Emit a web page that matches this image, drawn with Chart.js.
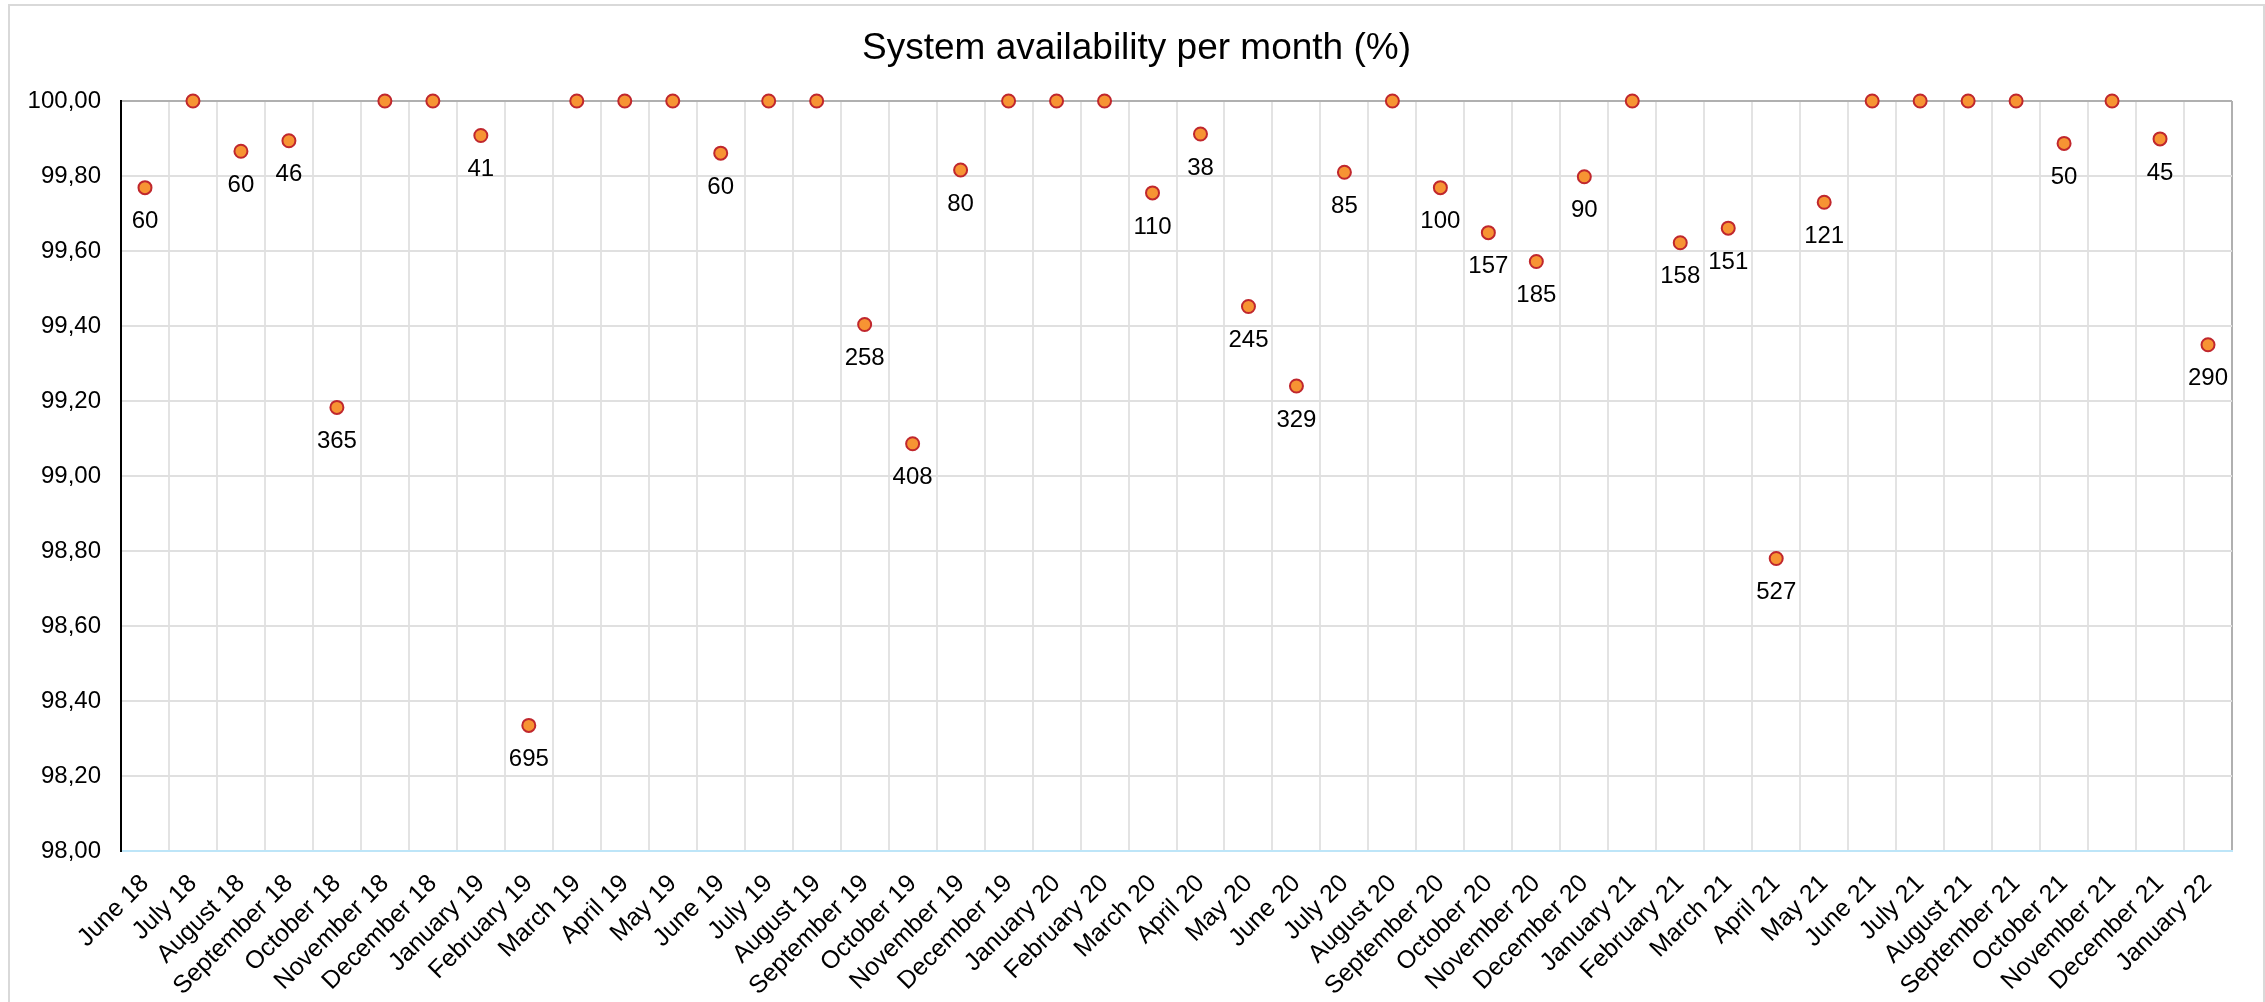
<!DOCTYPE html>
<html>
<head>
<meta charset="utf-8">
<script src="https://cdn.jsdelivr.net/npm/chart.js@4.4.1/dist/chart.umd.min.js"></script>
<style>
  body { margin: 0; background: #fff; overflow: hidden; }
  #wrap { position: relative; width: 2265px; height: 1002px; }
  #frame { position: absolute; left: 8px; top: 4px; width: 2253px; height: 1010px;
           border: 2px solid #d9d9d9; pointer-events: none; }
</style>
</head>
<body>
<div id="wrap">
  <canvas id="chart" width="2265" height="1002"></canvas>
  <div id="frame"></div>
</div>
<script>
const chartTitle = 'System availability per month (%)';

const months = [
  'June 18', 'July 18', 'August 18', 'September 18', 'October 18', 'November 18', 'December 18',
  'January 19', 'February 19', 'March 19', 'April 19', 'May 19', 'June 19', 'July 19', 'August 19',
  'September 19', 'October 19', 'November 19', 'December 19',
  'January 20', 'February 20', 'March 20', 'April 20', 'May 20', 'June 20', 'July 20', 'August 20',
  'September 20', 'October 20', 'November 20', 'December 20',
  'January 21', 'February 21', 'March 21', 'April 21', 'May 21', 'June 21', 'July 21', 'August 21',
  'September 21', 'October 21', 'November 21', 'December 21',
  'January 22'
];

// availability in %
const availability = [
  99.769, 100, 99.866, 99.894, 99.183, 100, 100,
  99.908, 98.335, 100, 100, 100, 99.861, 100, 100,
  99.404, 99.086, 99.816, 100,
  100, 100, 99.755, 99.912, 99.452, 99.240, 99.810, 100,
  99.769, 99.649, 99.572, 99.798,
  100, 99.622, 99.661, 98.780, 99.730, 100, 100, 100,
  100, 99.887, 100, 99.899,
  99.350
];

// downtime shown under the points (null = no label)
const downtime = [
  60, null, 60, 46, 365, null, null,
  41, 695, null, null, null, 60, null, null,
  258, 408, 80, null,
  null, null, 110, 38, 245, 329, 85, null,
  100, 157, 185, 90,
  null, 158, 151, 527, 121, null, null, null,
  null, 50, null, 45,
  290
];

const yMin = 98;
const yMax = 100;
const yStep = 0.2;

const font = "'Liberation Sans', Arial, sans-serif";

// title centred on the whole canvas, not on the layout box
const centredTitle = {
  id: 'centredTitle',
  afterDraw(chart) {
    const ctx = chart.ctx;
    ctx.save();
    ctx.font = '37px ' + font;
    ctx.fillStyle = '#000';
    ctx.textAlign = 'center';
    ctx.textBaseline = 'middle';
    ctx.fillText(chartTitle, chart.width / 2 + 4, 49);
    ctx.restore();
  }
};

// writes the downtime numbers below each point
const downtimeLabels = {
  id: 'downtimeLabels',
  afterDatasetsDraw(chart) {
    const ctx = chart.ctx;
    const meta = chart.getDatasetMeta(0);
    ctx.save();
    ctx.font = '24px ' + font;
    ctx.fillStyle = '#000';
    ctx.textAlign = 'center';
    ctx.textBaseline = 'middle';
    meta.data.forEach((pt, i) => {
      if (downtime[i] == null) return;
      ctx.fillText(String(downtime[i]), pt.x, pt.y + 34);
    });
    ctx.restore();
  }
};

new Chart(document.getElementById('chart'), {
  type: 'line',
  data: {
    labels: months,
    datasets: [{
      data: availability,
      showLine: false,
      clip: false,
      pointRadius: 6.5,
      pointHoverRadius: 6.5,
      pointBackgroundColor: '#f79433',
      pointBorderColor: '#c0272d',
      pointBorderWidth: 2
    }]
  },
  options: {
    responsive: false,
    animation: false,
    events: [],
    layout: { padding: { left: 0, right: 33, top: 101, bottom: 0 } },
    plugins: {
      legend: { display: false },
      tooltip: { enabled: false },
      title: { display: false }
    },
    scales: {
      x: {
        offset: true,
        grid: {
          offset: true,
          drawTicks: false,
          lineWidth: 2,
          color: c => (c.tick ? '#e3e3e3' : '#b0b0b0')
        },
        border: { color: '#bde5f8', width: 2 },
        ticks: {
          color: '#000',
          font: { family: font, size: 25 },
          minRotation: 45,
          maxRotation: 45,
          autoSkip: false,
          padding: 18
        },
        afterFit: s => { s.height = 151; }
      },
      y: {
        min: yMin,
        max: yMax,
        grid: {
          drawTicks: false,
          lineWidth: 2,
          color: c => (c.tick && c.tick.value >= yMax ? '#b0b0b0' : '#e0e0e0')
        },
        border: { color: '#000', width: 2 },
        ticks: {
          stepSize: yStep,
          color: '#000',
          font: { family: font, size: 24 },
          padding: 20,
          callback: v => v.toFixed(2).replace('.', ',')
        },
        afterFit: s => { s.width = 121; }
      }
    }
  },
  plugins: [downtimeLabels, centredTitle]
});
</script>
</body>
</html>
